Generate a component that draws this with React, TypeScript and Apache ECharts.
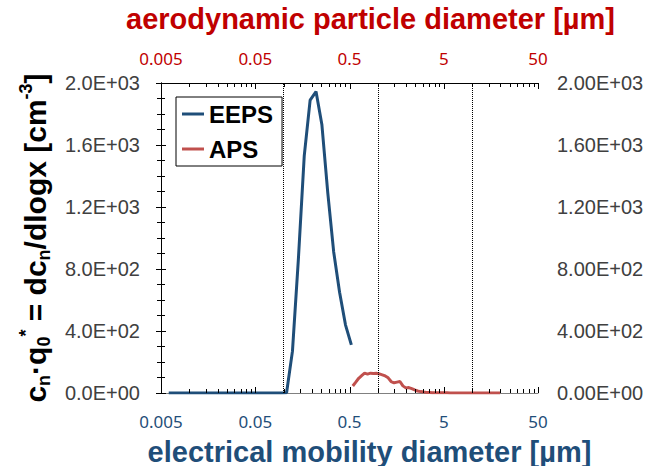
import React, { useEffect, useRef } from "react";
import * as echarts from "echarts";

// ---- data (diameters in µm, values in cm^-3) ----
const eepsDiameterUm = [
  0.00604, 0.00698, 0.00806, 0.00931, 0.0108, 0.0124, 0.0143, 0.0165, 0.0191, 0.0221,
  0.0255, 0.0294, 0.034, 0.0392, 0.0453, 0.0523, 0.0604, 0.0698, 0.0806, 0.0931,
  0.1075, 0.1241, 0.1433, 0.1655, 0.1911, 0.2207, 0.2548, 0.2943, 0.3398, 0.3924,
  0.4532, 0.5233,
];
const eepsValues = [
  0, 0, 0, 0, 0, 0, 0, 0, 0, 0,
  0, 0, 0, 0, 0, 0, 0, 0, 0, 0,
  2, 270, 860, 1530, 1890, 1945, 1730, 1290, 910, 650,
  440, 310,
];

const apsDiameterUm = [
  0.542, 0.583, 0.626, 0.673, 0.723, 0.777, 0.835, 0.898, 0.965, 1.037,
  1.114, 1.197, 1.286, 1.382, 1.486, 1.596, 1.715, 1.843, 1.981, 2.129,
  2.288, 2.458, 2.642, 2.839, 3.051, 3.278, 3.523, 3.786, 4.068, 4.371,
  4.698, 5.048, 5.425, 5.829, 6.264, 6.732, 7.234, 7.774, 8.354, 8.977,
  9.647, 10.37, 11.14, 11.97, 12.86, 13.82, 14.86, 15.96, 17.15, 18.43,
  19.81,
];
const apsValues = [
  45, 70, 95, 112, 128, 122, 128, 126, 127, 123,
  117, 110, 98, 74, 66, 70, 74, 46, 33, 35,
  28, 20, 13, 9, 6, 4, 3, 2, 2, 1,
  1, 1, 1, 0.5, 0.5, 0.5, 0.3, 0.3, 0.3, 0.2,
  0.2, 0.2, 0.1, 0.1, 0.1, 0.1, 0, 0, 0, 0,
  0,
];

const referenceLinesUm = [0.1, 1, 10];

const xMajorTicksUm = [0.005, 0.05, 0.5, 5, 50];
const xTickLabels = ["0.005", "0.05", "0.5", "5", "50"];
const yLeftLabels = ["0.0E+00", "4.0E+02", "8.0E+02", "1.2E+03", "1.6E+03", "2.0E+03"];
const yRightLabels = ["0.00E+00", "4.00E+02", "8.00E+02", "1.20E+03", "1.60E+03", "2.00E+03"];

const BLUE = "#1F4E79";
const RED_LINE = "#C0504D";
const RED_TEXT = "#C00000";
const LABEL_GRAY = "#404040";
const FONT = "'Liberation Sans', Arial, sans-serif";
const LABEL_FONT = "'Noto Sans', 'Liberation Sans', sans-serif";

export default function App() {
  const ref = useRef<HTMLDivElement>(null);

  useEffect(() => {
    if (!ref.current) return;
    const chart = echarts.init(ref.current, undefined, { renderer: "svg" });

    const tickData: number[][] = [];
    for (let i = 0; i < xMajorTicksUm.length; i++) {
      tickData.push([xMajorTicksUm[i], 1]);
      if (i < xMajorTicksUm.length - 1) {
        for (let k = 2; k <= 9; k++) tickData.push([xMajorTicksUm[i] * k, 0]);
      }
    }

    const yMin = 0;
    const yMax = 2000;

    const option: any = {
      animation: false,
      textStyle: { fontFamily: FONT },
      grid: {
        left: 161,
        top: 83,
        right: 123,
        bottom: 73,
        containLabel: false,
        outerBoundsMode: "none",
      },
      legend: {
        data: ["EEPS", "APS"],
        orient: "vertical",
        left: 176,
        top: 97,
        padding: [5, 9, 5, 6],
        itemGap: 11,
        itemWidth: 22,
        itemHeight: 3,
        icon: "rect",
        borderColor: "#000",
        borderWidth: 1,
        backgroundColor: "#fff",
        textStyle: { fontSize: 24, fontWeight: "bold", color: "#000", fontFamily: FONT },
      },
      xAxis: [
        {
          type: "log",
          logBase: 10,
          min: 0.005,
          max: 50,
          position: "bottom",
          axisLine: { show: true, lineStyle: { color: "#808080", width: 1 } },
          axisTick: { show: false },
          axisLabel: { show: false },
          splitLine: { show: false },
          name: "electrical mobility diameter [µm]",
          nameLocation: "middle",
          nameGap: 44,
          nameTextStyle: {
            fontSize: 29,
            fontWeight: "bold",
            color: BLUE,
            fontFamily: FONT,
            padding: [0, 0, 0, 40],
          },
        },
        {
          type: "value",
          min: 0,
          max: 4,
          interval: 1,
          position: "bottom",
          axisLine: { show: false },
          axisTick: { show: false },
          splitLine: { show: false },
          axisLabel: {
            margin: 20,
            fontSize: 17,
            color: BLUE,
            fontFamily: LABEL_FONT,
            formatter: (v: number) => xTickLabels[Math.round(v)],
          },
        },
        {
          type: "value",
          min: 0,
          max: 4,
          interval: 1,
          position: "top",
          axisLine: { show: true, lineStyle: { color: "#000", width: 1 } },
          axisTick: { show: false },
          splitLine: { show: false },
          axisLabel: {
            margin: 16,
            fontSize: 17,
            color: RED_TEXT,
            fontFamily: LABEL_FONT,
            formatter: (v: number) => xTickLabels[Math.round(v)],
          },
          name: "aerodynamic particle diameter [µm]",
          nameLocation: "middle",
          nameGap: 50,
          nameTextStyle: {
            fontSize: 29,
            fontWeight: "bold",
            color: RED_TEXT,
            fontFamily: FONT,
            padding: [0, 0, 0, 42],
          },
        },
      ],
      yAxis: [
        {
          type: "value",
          min: yMin,
          max: yMax,
          interval: 400,
          position: "left",
          axisLine: { show: true, lineStyle: { color: "#000", width: 1 } },
          axisTick: { show: true, inside: true, length: 5, lineStyle: { color: "#000" } },
          minorTick: { show: true, splitNumber: 4, length: 4, lineStyle: { color: "#000" } },
          splitLine: { show: false },
          axisLabel: {
            margin: 21,
            fontSize: 20,
            color: LABEL_GRAY,
            fontFamily: FONT,
            formatter: (v: number) => yLeftLabels[Math.round(v / 400)],
          },
          name:
            "{a|c}{s|n}{a|·q}{s|0}{p|*}{a| = dc}{s|n}{a|/dlogx [cm}{p|-3}{a|]}",
          nameLocation: "middle",
          nameRotate: 90,
          nameGap: 108,
          nameTextStyle: {
            color: "#000",
            fontFamily: FONT,
            rich: {
              a: { fontSize: 30, fontWeight: "bold", color: "#000", fontFamily: FONT, lineHeight: 36 },
              s: {
                fontSize: 18,
                fontWeight: "bold",
                color: "#000",
                fontFamily: FONT,
                lineHeight: 18,
                verticalAlign: "bottom",
              },
              p: {
                fontSize: 18,
                fontWeight: "bold",
                color: "#000",
                fontFamily: FONT,
                lineHeight: 18,
                verticalAlign: "top",
              },
            },
          },
        },
        {
          type: "value",
          min: yMin,
          max: yMax,
          interval: 400,
          position: "right",
          axisLine: { show: true, lineStyle: { color: "#000", width: 1 } },
          axisTick: { show: true, inside: true, length: 5, lineStyle: { color: "#000" } },
          minorTick: { show: true, splitNumber: 4, length: 4, lineStyle: { color: "#000" } },
          splitLine: { show: false },
          axisLabel: {
            margin: 19,
            fontSize: 20,
            color: LABEL_GRAY,
            fontFamily: FONT,
            formatter: (v: number) => yRightLabels[Math.round(v / 400)],
          },
        },
      ],
      series: [
        {
          name: "EEPS",
          type: "line",
          xAxisIndex: 0,
          yAxisIndex: 0,
          data: eepsDiameterUm.map((d, i) => [d, eepsValues[i]]),
          symbol: "none",
          showSymbol: false,
          color: BLUE,
          lineStyle: { color: BLUE, width: 3 },
          z: 4,
          markLine: {
            silent: true,
            symbol: "none",
            label: { show: false },
            lineStyle: { color: "#000", width: 1, type: [1, 1] },
            data: referenceLinesUm.map((v) => ({ xAxis: v })),
          },
        },
        {
          name: "APS",
          type: "line",
          xAxisIndex: 0,
          yAxisIndex: 0,
          data: apsDiameterUm.map((d, i) => [d, apsValues[i]]),
          symbol: "none",
          showSymbol: false,
          color: RED_LINE,
          lineStyle: { color: RED_LINE, width: 3 },
          z: 4,
        },
        {
          name: "xticks",
          type: "custom",
          xAxisIndex: 0,
          yAxisIndex: 0,
          silent: true,
          clip: false,
          z: 5,
          data: tickData,
          renderItem: (params: any, api: any) => {
            const v = api.value(0);
            const major = api.value(1) === 1;
            const b = api.coord([v, yMin]);
            const t = api.coord([v, yMax]);
            const len = major ? 6 : 4;
            const x = Math.round(b[0]) + 0.5;
            return {
              type: "group",
              children: [
                {
                  type: "line",
                  shape: { x1: x, y1: b[1], x2: x, y2: b[1] - len },
                  style: { stroke: "#000", lineWidth: 1 },
                },
                {
                  type: "line",
                  shape: { x1: x, y1: t[1], x2: x, y2: t[1] + len },
                  style: { stroke: "#000", lineWidth: 1 },
                },
              ],
            };
          },
        },
      ],
    };

    chart.setOption(option);
    return () => {
      chart.dispose();
    };
  }, []);

  return (
    <div
      ref={ref}
      style={{ position: "absolute", left: 0, top: 0, width: 661, height: 466, background: "#fff" }}
    />
  );
}
